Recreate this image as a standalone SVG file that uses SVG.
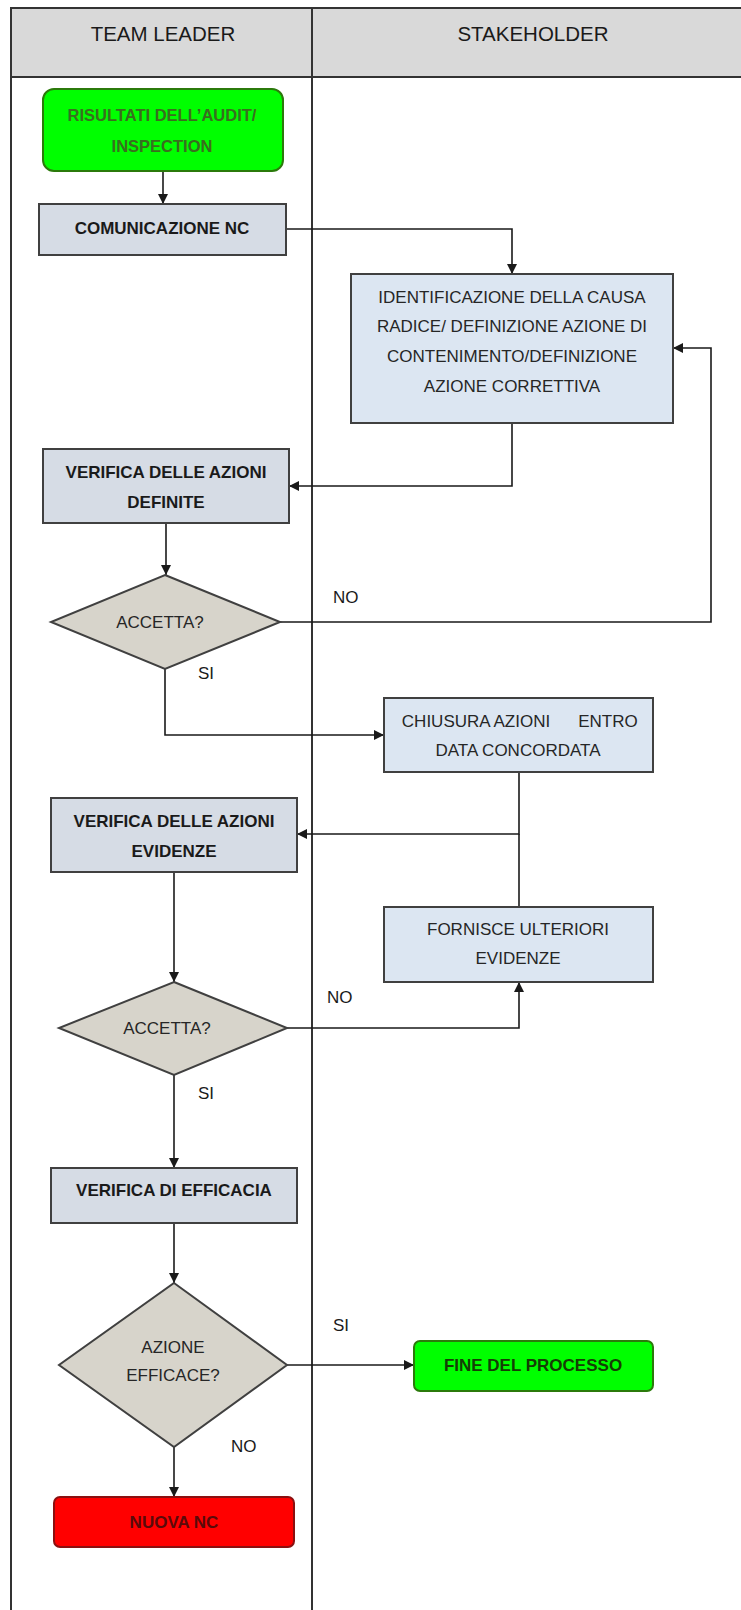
<svg xmlns="http://www.w3.org/2000/svg" width="741" height="1610" viewBox="0 0 741 1610">
<defs>
<marker id="ah" markerUnits="userSpaceOnUse" markerWidth="10" markerHeight="10" refX="10" refY="5" orient="auto">
<path d="M0,0 L10,5 L0,10 z" fill="#1a1a1a"/>
</marker>
<style>
.lane{stroke:#333;stroke-width:2;fill:none}
.hdr{fill:#d9d9d9;stroke:#333;stroke-width:2}
.ht{font-family:"Liberation Sans",Arial,sans-serif;font-size:20.5px;fill:#1a1a1a;text-anchor:middle}
.t{font-family:"Liberation Sans",Arial,sans-serif;font-size:17px;fill:#262626;text-anchor:middle}
.tb{font-family:"Liberation Sans",Arial,sans-serif;font-size:17px;font-weight:bold;fill:#1a1a1a;text-anchor:middle}
.tg{font-family:"Liberation Sans",Arial,sans-serif;font-size:16.5px;font-weight:bold;fill:#3a6e1f;text-anchor:middle}
.lbl{font-family:"Liberation Sans",Arial,sans-serif;font-size:17px;fill:#1a1a1a}
.pl{fill:#d6dce5;stroke:#404040;stroke-width:2}
.pr{fill:#dce6f2;stroke:#404040;stroke-width:2}
.dia{fill:#d7d4cb;stroke:#404040;stroke-width:2}
.grn{fill:#00ff00;stroke:#2b7a0b;stroke-width:2}
.red{fill:#ff0000;stroke:#8b1010;stroke-width:2}
.c{fill:none;stroke:#1a1a1a;stroke-width:1.6}
.ca{fill:none;stroke:#1a1a1a;stroke-width:1.6;marker-end:url(#ah)}
</style>
</defs>
<rect width="741" height="1610" fill="#ffffff"/>
<g id="lanes">
<rect class="hdr" x="11" y="8" width="740" height="69"/>
<line class="lane" x1="11" y1="8" x2="11" y2="1610"/>
<line class="lane" x1="312" y1="8" x2="312" y2="1610"/>
<text class="ht" x="163" y="41">TEAM LEADER</text>
<text class="ht" x="533" y="41">STAKEHOLDER</text>
</g>
<g id="connectors">
<path class="ca" d="M163,171 L163,204"/>
<path class="ca" d="M286,229 L512,229 L512,274"/>
<path class="ca" d="M512,423 L512,486 L289,486"/>
<path class="ca" d="M166,523 L166,575"/>
<path class="ca" d="M280,622 L711,622 L711,348 L673,348"/>
<path class="ca" d="M165,669 L165,735 L384,735"/>
<path class="ca" d="M519,772 L519,834 L297,834"/>
<path class="c" d="M519,907 L519,834"/>
<path class="ca" d="M174,872 L174,982"/>
<path class="ca" d="M287,1028 L519,1028 L519,982"/>
<path class="ca" d="M174,1075 L174,1168"/>
<path class="ca" d="M174,1223 L174,1283"/>
<path class="ca" d="M287,1365 L414,1365"/>
<path class="ca" d="M174,1447 L174,1497"/>
</g>
<g id="labels">
<text class="lbl" x="333" y="603">NO</text>
<text class="lbl" x="198" y="679">SI</text>
<text class="lbl" x="327" y="1003">NO</text>
<text class="lbl" x="198" y="1099">SI</text>
<text class="lbl" x="333" y="1331">SI</text>
<text class="lbl" x="231" y="1452">NO</text>
</g>
<g id="n-risultati">
<rect class="grn" x="43" y="89" width="240" height="82" rx="11"/>
<text class="tg" x="162" y="121">RISULTATI DELL’AUDIT/</text>
<text class="tg" x="162" y="152">INSPECTION</text>
</g>
<g id="n-comunicazione">
<rect class="pl" x="39" y="204" width="247" height="51"/>
<text class="tb" x="162" y="234">COMUNICAZIONE NC</text>
</g>
<g id="n-identificazione">
<rect class="pr" x="351" y="274" width="322" height="149"/>
<text class="t" x="512" y="303">IDENTIFICAZIONE DELLA CAUSA</text>
<text class="t" x="512" y="332">RADICE/ DEFINIZIONE AZIONE DI</text>
<text class="t" x="512" y="362">CONTENIMENTO/DEFINIZIONE</text>
<text class="t" x="512" y="392">AZIONE CORRETTIVA</text>
</g>
<g id="n-verifica-definite">
<rect class="pl" x="43" y="449" width="246" height="74"/>
<text class="tb" x="166" y="478">VERIFICA DELLE AZIONI</text>
<text class="tb" x="166" y="508">DEFINITE</text>
</g>
<g id="n-accetta1">
<polygon class="dia" points="165,575 280,622 165,669 51,622"/>
<text class="t" x="160" y="628">ACCETTA?</text>
</g>
<g id="n-chiusura">
<rect class="pr" x="384" y="698" width="269" height="74"/>
<text class="t" x="476" y="727">CHIUSURA AZIONI</text>
<text class="t" x="608" y="727">ENTRO</text>
<text class="t" x="518" y="756">DATA CONCORDATA</text>
</g>
<g id="n-verifica-evidenze">
<rect class="pl" x="51" y="798" width="246" height="74"/>
<text class="tb" x="174" y="827">VERIFICA DELLE AZIONI</text>
<text class="tb" x="174" y="857">EVIDENZE</text>
</g>
<g id="n-fornisce">
<rect class="pr" x="384" y="907" width="269" height="75"/>
<text class="t" x="518" y="935">FORNISCE ULTERIORI</text>
<text class="t" x="518" y="964">EVIDENZE</text>
</g>
<g id="n-accetta2">
<polygon class="dia" points="174,982 287,1028 174,1075 59,1028"/>
<text class="t" x="167" y="1034">ACCETTA?</text>
</g>
<g id="n-efficacia">
<rect class="pl" x="51" y="1168" width="246" height="55"/>
<text class="tb" x="174" y="1196">VERIFICA DI EFFICACIA</text>
</g>
<g id="n-azione-efficace">
<polygon class="dia" points="174,1283 287,1365 174,1447 59,1365"/>
<text class="t" x="173" y="1353">AZIONE</text>
<text class="t" x="173" y="1381">EFFICACE?</text>
</g>
<g id="n-fine">
<rect class="grn" x="414" y="1341" width="239" height="50" rx="6"/>
<text class="tb" x="533" y="1371" style="fill:#153d05">FINE DEL PROCESSO</text>
</g>
<g id="n-nuova">
<rect class="red" x="54" y="1497" width="240" height="50" rx="6"/>
<text class="tb" x="174" y="1528" style="fill:#5a0a0a">NUOVA NC</text>
</g>
</svg>
